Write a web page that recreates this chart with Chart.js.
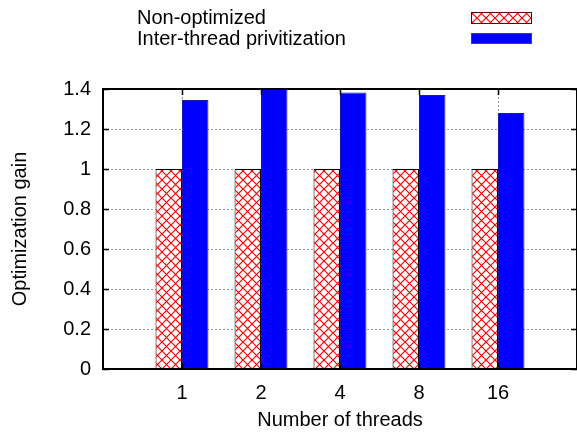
<!DOCTYPE html>
<html>
<head>
<meta charset="utf-8">
<script src="https://cdn.jsdelivr.net/npm/chart.js@4/dist/chart.umd.min.js"></script>
<style>
html,body{margin:0;padding:0;background:#fff;overflow:hidden;}
#wrap{width:577px;height:434px;}
</style>
</head>
<body>
<div id="wrap"><canvas id="c" width="577" height="434"></canvas></div>
<script>
// ---- data ----
const categories = ['1', '2', '4', '8', '16'];
const seriesNames = ['Non-optimized', 'Inter-thread privitization'];
const nonOptimized = [1.0, 1.0, 1.0, 1.0, 1.0];
const interThread = [1.345, 1.40, 1.383, 1.37, 1.28];
const yMin = 0, yMax = 1.4, yStep = 0.2;
const xTitle = 'Number of threads';
const yTitle = 'Optimization gain';

// padded category axis (range -1 .. 5 like the original)
const labels = [''].concat(categories, ['']);
const pad = arr => [null].concat(arr, [null]);

function hatchPattern() {
  const s = 9;
  const c = document.createElement('canvas');
  c.width = s; c.height = s;
  const g = c.getContext('2d');
  g.fillStyle = '#ffffff';
  g.fillRect(0, 0, s, s);
  g.strokeStyle = '#ff0000';
  g.lineWidth = 1.2;
  g.beginPath();
  g.moveTo(-1, -1); g.lineTo(s + 1, s + 1);
  g.moveTo(s + 1, -1); g.lineTo(-1, s + 1);
  g.stroke();
  return g.createPattern(c, 'repeat');
}

Chart.defaults.font.family = '"Liberation Sans", Arial, sans-serif';
Chart.defaults.font.size = 20;
Chart.defaults.color = '#000';

const framePlugin = {
  id: 'frame',
  afterDatasetsDraw(chart) {
    const {ctx, chartArea: a, scales} = chart;
    ctx.save();
    ctx.strokeStyle = '#000';
    ctx.lineWidth = 1.5;
    ctx.beginPath();
    scales.y.ticks.forEach(t => {
      const y = Math.round(scales.y.getPixelForValue(t.value)) + 0.5;
      ctx.moveTo(a.left, y); ctx.lineTo(a.left + 6, y);
      ctx.moveTo(a.right, y); ctx.lineTo(a.right - 6, y);
    });
    categories.forEach((_, i) => {
      const x = Math.round(scales.x.getPixelForValue(i + 1)) + 0.5;
      ctx.moveTo(x, a.top); ctx.lineTo(x, a.top + 6);
      ctx.moveTo(x, a.bottom); ctx.lineTo(x, a.bottom - 6);
    });
    ctx.stroke();
    ctx.lineWidth = 2;
    ctx.strokeStyle = '#000';
    ctx.strokeRect(a.left, a.top, a.right - a.left, a.bottom - a.top);
    ctx.restore();
  },
  afterDraw(chart) {
    const {ctx} = chart;
    ctx.save();
    ctx.font = '20px "Liberation Sans", Arial, sans-serif';
    ctx.textAlign = 'left';
    ctx.textBaseline = 'middle';
    const rows = [18, 39];
    const boxes = [[471, 12, 61, 12], [471, 33, 61, 11]];
    chart.data.datasets.forEach((ds, i) => {
      ctx.fillStyle = '#000';
      ctx.fillText(ds.label, 137, rows[i]);
      const [bx, by, bw, bh] = boxes[i];
      ctx.fillStyle = ds.backgroundColor;
      ctx.fillRect(bx, by, bw, bh);
      ctx.lineWidth = 1;
      ctx.strokeStyle = ds.legendBorder;
      ctx.strokeRect(bx + 0.5, by + 0.5, bw - 1, bh - 1);
    });
    ctx.restore();
  }
};

const ctx = document.getElementById('c').getContext('2d');
new Chart(ctx, {
  type: 'bar',
  data: {
    labels: labels,
    datasets: [
      {
        label: seriesNames[0],
        data: pad(nonOptimized),
        backgroundColor: hatchPattern(),
        borderColor: '#000',
        legendBorder: '#600000',
        borderWidth: 1,
        categoryPercentage: 0.67,
        barPercentage: 1.0
      },
      {
        label: seriesNames[1],
        data: pad(interThread),
        backgroundColor: '#0000ff',
        borderColor: '#1a1aa8',
        legendBorder: '#3a3a9a',
        borderWidth: 1,
        categoryPercentage: 0.67,
        barPercentage: 1.0
      }
    ]
  },
  options: {
    responsive: false,
    devicePixelRatio: 1,
    animation: false,
    layout: {padding: {top: 89, left: 0, right: 0, bottom: 0}},
    plugins: {legend: {display: false}, tooltip: {enabled: false}},
    scales: {
      x: {
        offset: false,
        grid: {offset: false, color: '#9a9a9a', lineWidth: 1, drawTicks: false},
        border: {display: false, dash: [2, 2]},
        ticks: {padding: 12, maxRotation: 0, autoSkip: false},
        title: {display: true, text: xTitle, padding: {top: 0, bottom: 2}},
        afterFit(s) { s.height = 65; s.paddingLeft = 0; s.paddingRight = 0; }
      },
      y: {
        min: yMin,
        max: yMax,
        grid: {color: '#9a9a9a', lineWidth: 1, drawTicks: false},
        border: {display: false, dash: [2, 2]},
        ticks: {
          stepSize: yStep,
          padding: 12,
          callback: v => String(Number(v.toFixed(1)))
        },
        title: {display: true, text: yTitle, padding: {top: 8, bottom: 0}},
        afterFit(s) { s.width = 103; }
      }
    }
  },
  plugins: [framePlugin]
});
</script>
</body>
</html>
